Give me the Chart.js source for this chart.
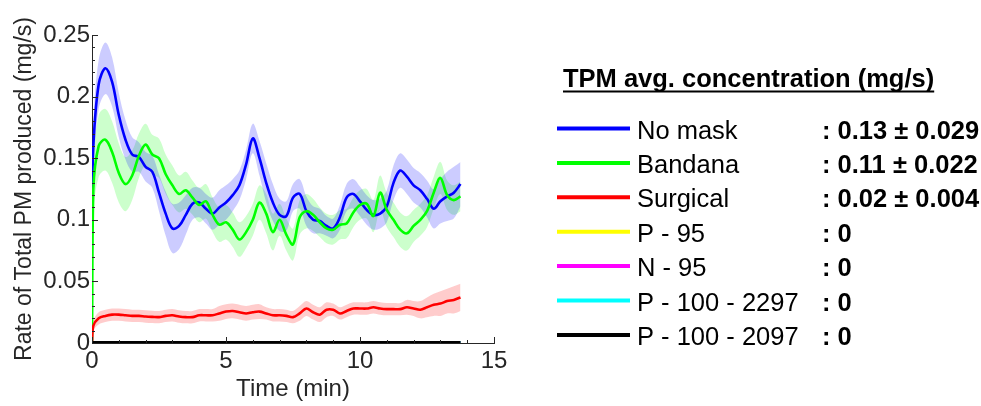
<!DOCTYPE html>
<html>
<head>
<meta charset="utf-8">
<script src="https://cdn.jsdelivr.net/npm/chart.js@4.4.0/dist/chart.umd.min.js"></script>
<style>
  body { margin: 0; background: #fff; }
  canvas { display: block; }
</style>
</head>
<body>
<canvas id="pmChart" width="981" height="406"></canvas>
<script>
// time in minutes
const minutes = [0, 0.05, 0.25, 0.5, 0.75, 1, 1.25, 1.5, 1.75, 2, 2.25, 2.5, 2.75, 3, 3.25, 3.5, 3.75, 4, 4.25, 4.5, 4.75, 5, 5.25, 5.5, 5.75, 6, 6.25, 6.5, 6.75, 7, 7.25, 7.5, 7.75, 8, 8.25, 8.5, 8.75, 9, 9.25, 9.5, 9.75, 10, 10.25, 10.5, 10.75, 11, 11.25, 11.5, 11.75, 12, 12.25, 12.5, 12.75, 13, 13.25, 13.5, 13.75];

// mean rate (mg/s) and +/- spread
const noMask = [0.105, 0.16, 0.21, 0.223, 0.212, 0.185, 0.165, 0.153, 0.151, 0.143, 0.139, 0.122, 0.105, 0.093, 0.095, 0.104, 0.113, 0.114, 0.109, 0.105, 0.11, 0.114, 0.12, 0.128, 0.145, 0.166, 0.15, 0.13, 0.114, 0.104, 0.103, 0.118, 0.121, 0.107, 0.1, 0.099, 0.095, 0.093, 0.102, 0.118, 0.121, 0.115, 0.108, 0.104, 0.105, 0.111, 0.13, 0.14, 0.135, 0.128, 0.124, 0.117, 0.109, 0.115, 0.119, 0.122, 0.129];
const noMaskSpread = [0.01, 0.02, 0.02, 0.021, 0.02, 0.018, 0.016, 0.014, 0.012, 0.012, 0.013, 0.015, 0.018, 0.02, 0.019, 0.016, 0.013, 0.012, 0.012, 0.013, 0.014, 0.014, 0.013, 0.012, 0.012, 0.012, 0.014, 0.016, 0.015, 0.013, 0.012, 0.011, 0.012, 0.012, 0.011, 0.01, 0.008, 0.008, 0.01, 0.011, 0.012, 0.012, 0.012, 0.012, 0.012, 0.013, 0.014, 0.014, 0.014, 0.014, 0.014, 0.015, 0.016, 0.018, 0.02, 0.021, 0.018];

const bandana = [0, 0.125, 0.16, 0.165, 0.155, 0.138, 0.129, 0.136, 0.152, 0.161, 0.153, 0.15, 0.137, 0.128, 0.121, 0.124, 0.118, 0.112, 0.115, 0.104, 0.096, 0.098, 0.092, 0.084, 0.09, 0.1, 0.114, 0.105, 0.09, 0.1, 0.088, 0.08, 0.102, 0.107, 0.104, 0.098, 0.093, 0.092, 0.096, 0.097, 0.106, 0.112, 0.113, 0.103, 0.122, 0.108, 0.1, 0.092, 0.089, 0.095, 0.1, 0.107, 0.122, 0.134, 0.12, 0.116, 0.119];
const bandanaSpread = [0, 0.02, 0.025, 0.025, 0.025, 0.024, 0.022, 0.02, 0.018, 0.017, 0.016, 0.016, 0.016, 0.016, 0.015, 0.015, 0.014, 0.014, 0.014, 0.014, 0.014, 0.014, 0.014, 0.014, 0.013, 0.013, 0.014, 0.016, 0.015, 0.013, 0.013, 0.013, 0.014, 0.014, 0.013, 0.012, 0.012, 0.012, 0.012, 0.012, 0.012, 0.012, 0.012, 0.013, 0.014, 0.014, 0.014, 0.014, 0.014, 0.013, 0.013, 0.013, 0.013, 0.013, 0.012, 0.012, 0.012];

const surgical = [0, 0.014, 0.02, 0.022, 0.023, 0.023, 0.0225, 0.022, 0.022, 0.0215, 0.0212, 0.021, 0.022, 0.0225, 0.0215, 0.021, 0.021, 0.0225, 0.0225, 0.0225, 0.024, 0.0255, 0.026, 0.025, 0.024, 0.025, 0.0255, 0.024, 0.0225, 0.0225, 0.022, 0.021, 0.024, 0.028, 0.025, 0.023, 0.027, 0.027, 0.024, 0.026, 0.028, 0.028, 0.028, 0.029, 0.028, 0.0275, 0.0275, 0.0275, 0.029, 0.028, 0.027, 0.029, 0.031, 0.032, 0.034, 0.035, 0.037];
const surgicalSpread = [0, 0.004, 0.005, 0.005, 0.005, 0.005, 0.005, 0.005, 0.005, 0.005, 0.005, 0.005, 0.005, 0.005, 0.005, 0.005, 0.005, 0.005, 0.005, 0.005, 0.006, 0.006, 0.006, 0.006, 0.006, 0.006, 0.006, 0.005, 0.005, 0.005, 0.005, 0.005, 0.006, 0.006, 0.006, 0.006, 0.006, 0.005, 0.005, 0.005, 0.005, 0.005, 0.005, 0.005, 0.005, 0.005, 0.005, 0.005, 0.006, 0.006, 0.007, 0.008, 0.009, 0.01, 0.01, 0.011, 0.011];

// respirators measured nothing
const zeroRate = [0, 0, 0, 0, 0, 0, 0, 0, 0, 0, 0, 0, 0, 0, 0, 0, 0, 0, 0, 0, 0, 0, 0, 0, 0, 0, 0, 0, 0, 0, 0, 0, 0, 0, 0, 0, 0, 0, 0, 0, 0, 0, 0, 0, 0, 0, 0, 0, 0, 0, 0, 0, 0, 0, 0, 0, 0];

const legendTitle = 'TPM avg. concentration (mg/s)';
const legendNames = ['No mask', 'Bandana', 'Surgical', 'P - 95', 'N - 95', 'P - 100 - 2297', 'P - 100 - 2097'];
const legendValues = [': 0.13 ± 0.029', ': 0.11 ± 0.022', ': 0.02 ± 0.004', ': 0', ': 0', ': 0', ': 0'];
const lineColors = ['#0000ff', '#00ff00', '#ff0000', '#ffff00', '#ff00ff', '#00ffff', '#000000'];
const bandColors = ['rgba(0,0,255,0.2)', 'rgba(0,255,0,0.2)', 'rgba(255,0,0,0.2)'];

const axisColor = '#262626';
const axisFont = { family: 'Liberation Sans', size: 24 };
const toPoints = arr => arr.map((v, i) => ({ x: minutes[i], y: v }));

const seriesValues = [noMask, bandana, surgical, zeroRate, zeroRate, zeroRate, zeroRate];
const seriesSpread = [noMaskSpread, bandanaSpread, surgicalSpread];

const datasets = [];
seriesSpread.forEach((spr, i) => {
    const mean = seriesValues[i];
    datasets.push({
        data: toPoints(mean.map((v, k) => v + spr[k])),
        borderWidth: 0,
        backgroundColor: bandColors[i],
        fill: '+1',
        order: 20
    });
    datasets.push({
        data: toPoints(mean.map((v, k) => v - spr[k])),
        borderWidth: 0,
        fill: false,
        order: 20
    });
});
seriesValues.forEach((vals, i) => {
    datasets.push({
        label: legendNames[i],
        data: toPoints(vals),
        borderColor: lineColors[i],
        borderWidth: i < 3 ? 2.6 : 4,
        fill: false,
        order: 10 - i
    });
});

// MATLAB style ticks pointing into the plot
const inwardTicks = {
    id: 'inwardTicks',
    afterDraw(chart) {
        const { ctx, chartArea, scales: { x, y } } = chart;
        ctx.save();
        ctx.strokeStyle = axisColor;
        ctx.lineWidth = 1;
        x.ticks.forEach(t => {
            const px = Math.round(x.getPixelForValue(t.value)) + 0.5;
            const len = t.label ? 6 : 3;
            ctx.beginPath();
            ctx.moveTo(px, chartArea.bottom);
            ctx.lineTo(px, chartArea.bottom - len);
            ctx.stroke();
        });
        y.ticks.forEach(t => {
            const py = Math.round(y.getPixelForValue(t.value)) + 0.5;
            const len = t.label ? 6 : 3;
            ctx.beginPath();
            ctx.moveTo(chartArea.left, py);
            ctx.lineTo(chartArea.left + len, py);
            ctx.stroke();
        });
        ctx.restore();
    }
};

const sideLegend = {
    id: 'sideLegend',
    afterDraw(chart) {
        const ctx = chart.ctx;
        ctx.save();
        ctx.fillStyle = '#000';
        ctx.textBaseline = 'alphabetic';
        ctx.font = 'bold 25.5px "Liberation Sans"';
        ctx.fillText(legendTitle, 563, 87);
        const w = ctx.measureText(legendTitle).width;
        ctx.fillRect(563, 90.5, w, 2);
        legendNames.forEach((name, i) => {
            const base = 138.5 + i * 34.4;
            ctx.strokeStyle = lineColors[i];
            ctx.lineWidth = 4;
            ctx.beginPath();
            ctx.moveTo(557, base - 10);
            ctx.lineTo(630, base - 10);
            ctx.stroke();
            ctx.font = '25.5px "Liberation Sans"';
            ctx.fillText(name, 637, base);
            ctx.font = 'bold 25.5px "Liberation Sans"';
            ctx.fillText(legendValues[i], 822, base);
        });
        ctx.restore();
    }
};

Chart.defaults.font.family = 'Liberation Sans';

const ctx = document.getElementById('pmChart').getContext('2d');
new Chart(ctx, {
    type: 'line',
    data: { datasets: datasets },
    options: {
        responsive: false,
        animation: false,
        layout: { padding: { top: 35, right: 487, left: 0, bottom: 0 } },
        elements: { point: { radius: 0 }, line: { tension: 0.35 } },
        plugins: {
            legend: { display: false },
            tooltip: { enabled: false },
            filler: { drawTime: 'beforeDatasetsDraw' }
        },
        scales: {
            x: {
                type: 'linear',
                min: 0,
                max: 15,
                afterFit: s => { s.height = 63; },
                grid: { display: false, drawTicks: false },
                border: { color: axisColor, width: 1 },
                ticks: {
                    stepSize: 1,
                    autoSkip: false,
                    maxRotation: 0,
                    padding: 4,
                    color: axisColor,
                    font: axisFont,
                    callback: v => (v % 5 === 0 ? String(v) : '')
                },
                title: {
                    display: true,
                    text: 'Time (min)',
                    color: axisColor,
                    font: axisFont,
                    padding: { top: 0, bottom: 2 }
                }
            },
            y: {
                min: 0,
                max: 0.25,
                afterFit: s => { s.width = 92; },
                grid: { display: false, drawTicks: false },
                border: { color: axisColor, width: 1 },
                ticks: {
                    stepSize: 0.01,
                    autoSkip: false,
                    padding: 2,
                    color: axisColor,
                    font: axisFont,
                    callback: v => (Math.round(v * 100) % 5 === 0 ? String(Math.round(v * 100) / 100) : '')
                },
                title: {
                    display: true,
                    text: 'Rate of Total PM produced (mg/s)',
                    color: axisColor,
                    font: { family: 'Liberation Sans', size: 23 },
                    padding: { top: 11, bottom: 0 }
                }
            }
        }
    },
    plugins: [inwardTicks, sideLegend]
});
</script>
</body>
</html>
